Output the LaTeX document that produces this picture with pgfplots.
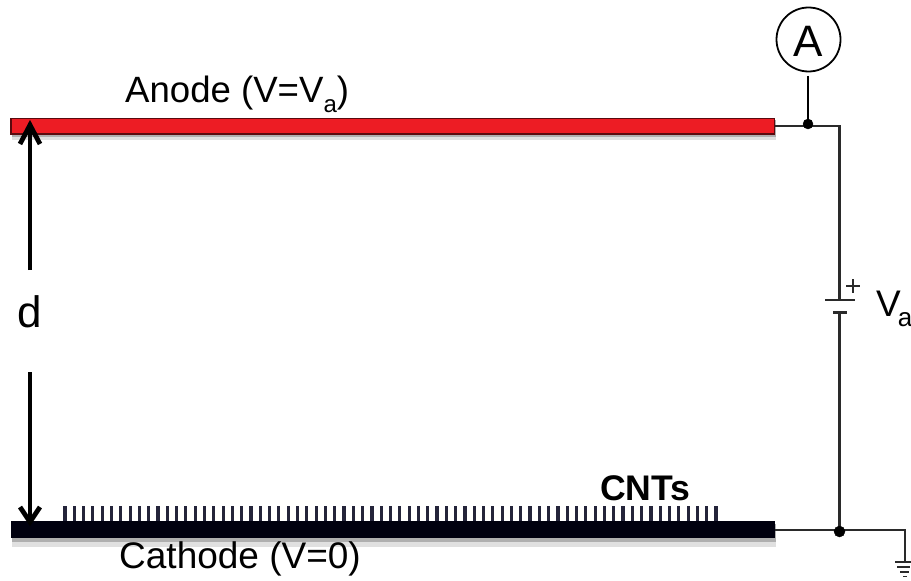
\documentclass[border=0pt]{standalone}
\usepackage{pgfplots}
\usepackage{fontspec}
\setmainfont{Liberation Sans}
\pgfplotsset{compat=1.18}
\definecolor{anodered}{HTML}{ED1C24}
\definecolor{anodeedge}{HTML}{5A0A0E}
\definecolor{cathblack}{HTML}{00000F}
\definecolor{wire}{HTML}{2A2A2A}
\definecolor{cnt}{HTML}{24243A}
\newcommand{\fs}[1]{\fontsize{#1bp}{#1bp}\selectfont}
\newcommand{\sub}[2]{\raisebox{-0.25em}{\fs{#2}#1}}
\begin{document}
\begin{tikzpicture}
\useasboundingbox (0,0) rectangle (911bp,581bp);
\begin{axis}[at={(0,0)},anchor=south west,scale only axis,width=911bp,height=581bp,
  xmin=0,xmax=911,ymin=0,ymax=581,y dir=reverse,hide axis,clip=false]
% shadows
\addplot[draw=none,fill=black,opacity=0.12] coordinates {(12,120)(776,120)(776,140)(12,140)} --cycle;
\addplot[draw=none,fill=black,opacity=0.22] coordinates {(12,120)(776,120)(776,137)(12,137)} --cycle;
\addplot[draw=none,fill=black,opacity=0.12] coordinates {(12,524)(776,524)(776,547)(12,547)} --cycle;
\addplot[draw=none,fill=black,opacity=0.22] coordinates {(12,524)(776,524)(776,542)(12,542)} --cycle;
% circuit
\addplot[wire,line width=2.2pt] coordinates {(775,126)(839.5,126)(839.5,300)};
\addplot[wire,line width=2.2pt] coordinates {(839.5,313)(839.5,530)};
\addplot[wire,line width=2.2pt] coordinates {(775,530)(905,530)(905,562)};
\addplot[black,line width=2.6pt] coordinates {(808,76)(808,124)};
\addplot[wire,line width=2.2pt] coordinates {(825,300)(855,300)};
\addplot[wire,line width=2.2pt] coordinates {(833,312.5)(847,312.5)};
\addplot[wire,line width=2.4pt] coordinates {(846,286)(860,286)};
\addplot[wire,line width=2.4pt] coordinates {(853,279)(853,293)};
% ground
\addplot[wire,line width=1.6pt] coordinates {(895,562)(911,562)};
\addplot[wire,line width=1.6pt] coordinates {(897,567)(910,567)};
\addplot[wire,line width=1.6pt] coordinates {(900,572)(909,572)};
\addplot[wire,line width=1.6pt] coordinates {(903,576.5)(907,576.5)};
% junction dots
\addplot[only marks,mark=*,mark size=5bp,mark options={fill=black,draw=black}] coordinates {(808,124)};
\addplot[only marks,mark=*,mark size=5.5bp,mark options={fill=black,draw=black}] coordinates {(839.5,531.5)};
% ammeter
\addplot[only marks,mark=*,mark size=32bp,mark options={fill=white,draw=black,line width=1.8pt}] coordinates {(808.5,39.5)};
% plates
\addplot[draw=anodeedge,fill=anodered,line width=1.6pt] coordinates {(11,118.5)(774.5,118.5)(774.5,134)(11,134)} --cycle;
\addplot[draw=none,fill=cathblack] coordinates {(11,521)(775,521)(775,538)(11,538)} --cycle;
% CNTs
\addplot[cnt,line width=3.2pt,mark=none,quiver={u=0,v=15}] table[row sep=\\] {
x y\\
65 506\\ 74.3 506\\ 83.6 506\\ 92.9 506\\ 102.2 506\\ 111.5 506\\ 120.8 506\\ 130.1 506\\ 139.4 506\\ 148.7 506\\
158 506\\ 167.3 506\\ 176.6 506\\ 185.9 506\\ 195.2 506\\ 204.5 506\\ 213.8 506\\ 223.1 506\\ 232.4 506\\ 241.7 506\\
251 506\\ 260.3 506\\ 269.6 506\\ 278.9 506\\ 288.2 506\\ 297.5 506\\ 306.8 506\\ 316.1 506\\ 325.4 506\\ 334.7 506\\
344 506\\ 353.3 506\\ 362.6 506\\ 371.9 506\\ 381.2 506\\ 390.5 506\\ 399.8 506\\ 409.1 506\\ 418.4 506\\ 427.7 506\\
437 506\\ 446.3 506\\ 455.6 506\\ 464.9 506\\ 474.2 506\\ 483.5 506\\ 492.8 506\\ 502.1 506\\ 511.4 506\\ 520.7 506\\
530 506\\ 539.3 506\\ 548.6 506\\ 557.9 506\\ 567.2 506\\ 576.5 506\\ 585.8 506\\ 595.1 506\\ 604.4 506\\ 613.7 506\\
623 506\\ 632.3 506\\ 641.6 506\\ 650.9 506\\ 660.2 506\\ 669.5 506\\ 678.8 506\\ 688.1 506\\ 697.4 506\\ 706.7 506\\
716 506\\
};
% arrows
\addplot[black,line width=4pt] coordinates {(30,270)(30,126)};
\addplot[black,line width=4.8pt,miter limit=10] coordinates {(20,144)(30,125)(40,144)};
\addplot[black,line width=4pt] coordinates {(30,372)(30,520)};
\addplot[black,line width=4.8pt,miter limit=10] coordinates {(20,507)(30,522)(40,507)};
% text
\node[anchor=base west,inner sep=0pt] at (axis cs:125,103) {\fs{36.6}Anode (V=V\sub{a}{24})};
\node[anchor=base west,inner sep=0pt] at (axis cs:119,568) {\fs{37}Cathode (V=0)};
\node[anchor=base west,inner sep=0pt] at (axis cs:600,500) {\fs{35.6}\bfseries CNTs};
\node[anchor=base,inner sep=0pt] at (axis cs:30,327) {\fs{44}d};
\end{axis}
\node[anchor=base west,inner sep=0pt] at (876bp,264bp) {\fs{37}V\kern-3bp\sub{a}{26}};
\node[anchor=base,inner sep=0pt] at (808.5bp,524bp) {\fs{44}A};
\end{tikzpicture}
\end{document}
